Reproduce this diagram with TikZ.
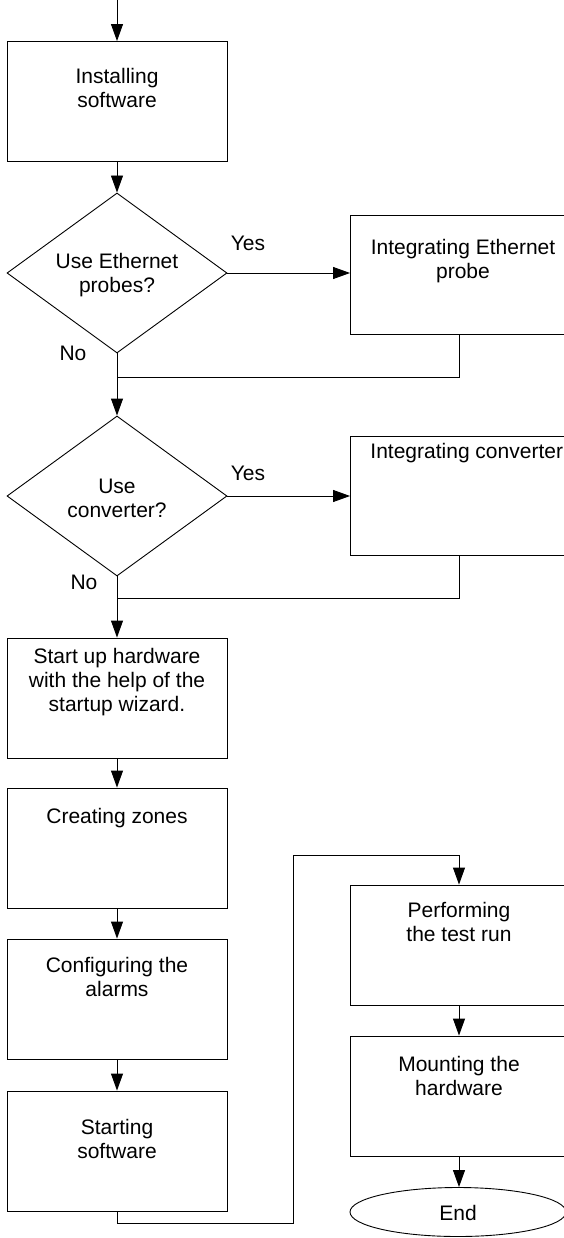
\documentclass[tikz,border=0pt]{standalone}
\usepackage{fontspec}
\setmainfont{Liberation Sans}
\usetikzlibrary{shapes.geometric,arrows.meta,calc}
\tikzset{
  box/.style={draw, rectangle, minimum width=220pt, minimum height=120pt, inner sep=0pt},
  rbox/.style={draw, rectangle, minimum width=218pt, minimum height=120pt, inner sep=0pt},
  dec/.style={draw, diamond, minimum width=220pt, minimum height=160pt, inner sep=0pt},
  term/.style={draw, ellipse, minimum width=216pt, minimum height=49pt, inner sep=0pt},
  txt/.style={align=center, inner sep=0pt, font=\fontsize{21}{24}\selectfont},
  lbl/.style={inner sep=0pt, font=\fontsize{21}{24}\selectfont},
  flow/.style={-{Triangle[length=17pt,width=12pt]}}
}
\begin{document}
\begin{tikzpicture}[x=1pt,y=-1pt,line width=0.9pt]
\useasboundingbox (0,0) rectangle (564,1238);
% left column
\coordinate (start) at (117,0);
\node[box] (b1) at (117,101.5) {};
\node[txt] (t1) at (117,88) {Installing\\software};
\node[dec] (d1) at (117,273) {};
\node[txt] (td1) at (117,275) {Use Ethernet\\probes?};
\node[rbox, minimum height=119pt] (b2) at (459.5,274.5) {};
\node[txt] (t2) at (463,261) {Integrating Ethernet\\probe};
\coordinate (j1) at (117,377);
\node[dec] (d2) at (117,496) {};
\node[txt] (td2) at (117,498) {Use\\converter?};
\node[rbox, minimum height=119pt] (b3) at (459.5,495.5) {};
\node[lbl, anchor=west] (t3) at (370,453) {Integrating converter};
\coordinate (j2) at (117,598);
\node[box] (b4) at (117,698) {};
\node[txt] (t4) at (117,682) {Start up hardware\\with the help of the\\startup wizard.};
\node[box] (b5) at (117,848) {};
\node[txt] (t5) at (117,818) {Creating zones};
\node[box] (b6) at (117,999) {};
\node[txt] (t6) at (117,977) {Configuring the\\alarms};
\node[box] (b7) at (117,1151) {};
\node[txt] (t7) at (117,1139) {Starting\\software};
% right column
\node[rbox] (b8) at (459,945) {};
\node[txt] (t8) at (459,922) {Performing\\the test run};
\node[rbox] (b9) at (459,1096) {};
\node[txt] (t9) at (459,1076) {Mounting the\\hardware};
\node[term] (e) at (458,1212) {};
\node[lbl] (te) at (458,1213) {End};
% labels
\node[lbl] (y1) at (248,243) {Yes};
\node[lbl] (n1) at (73,353) {No};
\node[lbl] (y2) at (248,473) {Yes};
\node[lbl] (n2) at (84,582) {No};
% connectors
\draw[flow] (start) -- (b1.north);
\draw[flow] (b1.south) -- (d1.north);
\draw[flow] (d1.east) -- (d1.east -| b2.west);
\draw (b2.south) |- (j1);
\draw[flow] (d1.south) -- (d2.north);
\draw[flow] (d2.east) -- (d2.east -| b3.west);
\draw (b3.south) |- (j2);
\draw[flow] (d2.south) -- (b4.north);
\draw[flow] (b4.south) -- (b5.north);
\draw[flow] (b5.south) -- (b6.north);
\draw[flow] (b6.south) -- (b7.north);
\coordinate (c1) at (117,1223);
\coordinate (c2) at (293,1223);
\coordinate (c3) at (293,855);
\coordinate (c4) at (459,855);
\draw[flow] (b7.south) -- (c1) -- (c2) -- (c3) -- (c4) -- (b8.north);
\draw[flow] (b8.south) -- (b9.north);
\draw[flow] (b9.south) -- (b9.south |- e.north);
\end{tikzpicture}
\end{document}
